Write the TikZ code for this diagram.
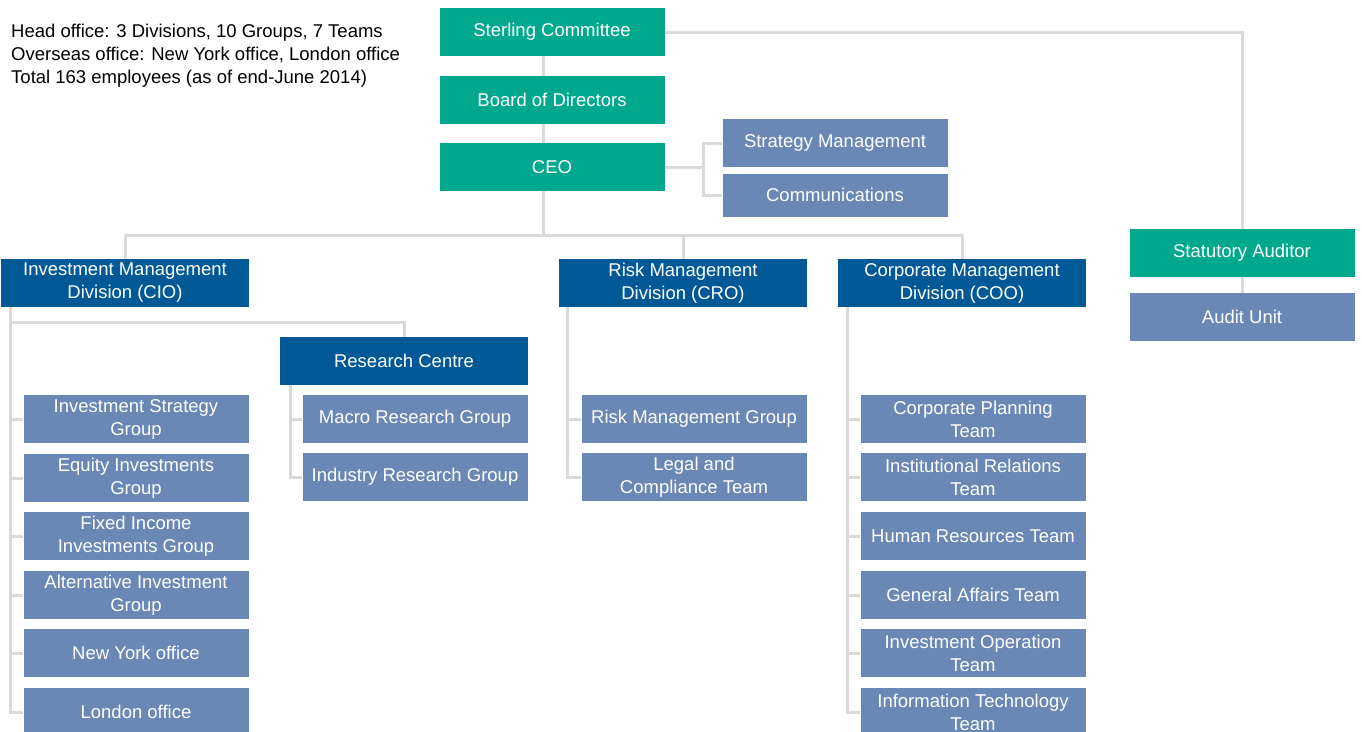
\documentclass[tikz,border=0pt]{standalone}
\usepackage{fontspec}
\setmainfont{Liberation Sans}
\definecolor{boardgreen}{RGB}{0,169,142}
\definecolor{divblue}{RGB}{0,89,150}
\definecolor{unitblue}{RGB}{106,136,181}
\definecolor{linegray}{RGB}{218,218,218}
\begin{document}
\begin{tikzpicture}[x=1pt,y=-1pt]

      \tikzset{basebox/.style={text=white, inner sep=0pt, minimum height=48pt, align=center, font=\fontsize{18.5}{23}\selectfont},
               board/.style={basebox, fill=boardgreen, minimum width=225pt},
               division/.style={basebox, fill=divblue, minimum width=248pt},
               unit/.style={basebox, fill=unitblue, minimum width=225pt},
               link/.style={draw=linegray, line width=3pt}}
      \useasboundingbox (0,0) rectangle (1362,731);
%% Summary
      	\node[anchor=west, align=left, inner sep=0pt, font=\fontsize{18.5}{23}\selectfont] (summary) at (11,56)
      	  {Head office: 3 Divisions, 10 Groups, 7 Teams\\Overseas office: New York office, London office\\Total 163 employees (as of end-June 2014)};
%% Top
      	\node[board] (sc) at (552,32) {Sterling Committee};
      	\node[board] (bod) at (552,100) {Board of Directors};
      	\node[board] (ceo) at (552,167) {CEO};
      	\node[unit] (sm) at (835,143) {Strategy Management};
      	\node[unit, minimum height=43pt] (com) at (835,195) {Communications};
      	\node[board] (sa) at (1242,253) {Statutory Auditor};
      	\node[unit] (au) at (1242,317) {Audit Unit};
%% Divisions
      	\node[division] (imd) at (125,283) {Investment Management\\Division (CIO)};
      	\node[division] (rmd) at (683,283) {Risk Management\\Division (CRO)};
      	\node[division] (cmd) at (962,283) {Corporate Management\\Division (COO)};
      	\node[division] (rc) at (404,361) {Research Centre};
%% Groups and teams
      	\node[unit] (isg) at (136,419) {Investment Strategy\\Group};
      	\node[unit] (eig) at (136,478) {Equity Investments\\Group};
      	\node[unit] (fig) at (136,536) {Fixed Income\\Investments Group};
      	\node[unit] (aig) at (136,595) {Alternative Investment\\Group};
      	\node[unit] (ny) at (136,653) {New York office};
      	\node[unit] (lo) at (136,712) {London office};
      	\node[unit] (mrg) at (415,419) {Macro Research Group};
      	\node[unit] (irg) at (415,477) {Industry Research Group};
      	\node[unit] (rmg) at (694,419) {Risk Management Group};
      	\node[unit] (lct) at (694,477) {Legal and\\Compliance Team};
      	\node[unit] (cpt) at (973,419) {Corporate Planning\\Team};
      	\node[unit] (irt) at (973,477) {Institutional Relations\\Team};
      	\node[unit] (hrt) at (973,536) {Human Resources Team};
      	\node[unit] (gat) at (973,595) {General Affairs Team};
      	\node[unit] (iot) at (973,653) {Investment Operation\\Team};
      	\node[unit] (itt) at (973,712) {Information Technology\\Team};
%% Lines
      	\coordinate (bus) at (543,235);
      	\coordinate (staff) at (703,167);
      	\coordinate (imdspine) at (10,322);
      	\coordinate (rcspine) at (290,385);
      	\coordinate (rmdspine) at (567,307);
      	\coordinate (cmdspine) at (847,307);
		\draw[link] (sc.south -| bus) -- (bod.north -| bus);
		\draw[link] (bod.south -| bus) -- (ceo.north -| bus);
		\draw[link] (ceo.south -| bus) -- (bus);
		\draw[link] (imd.north) |- (bus) -| (cmd.north);
		\draw[link] (bus -| rmd.north) -- (rmd.north);
		\draw[link] (sc.east) -| (sa.north);
		\draw[link] (sa) -- (au);
		\draw[link] (ceo.east) -- (staff);
		\draw[link] (sm.west) -| (staff) |- (com.west);
		\draw[link] (imd.south -| imdspine) -- (imdspine) -| (rc.north);
		\draw[link] (imdspine) |- (lo.west);
		\foreach \n in {isg,eig,fig,aig,ny} \draw[link] (imdspine |- \n.west) -- (\n.west);
		\draw[link] (rcspine) |- (irg.west);
		\draw[link] (rcspine |- mrg.west) -- (mrg.west);
		\draw[link] (rmdspine) |- (lct.west);
		\draw[link] (rmdspine |- rmg.west) -- (rmg.west);
		\draw[link] (cmdspine) |- (itt.west);
		\foreach \n in {cpt,irt,hrt,gat,iot} \draw[link] (cmdspine |- \n.west) -- (\n.west);

	\end{tikzpicture}
\end{document}
